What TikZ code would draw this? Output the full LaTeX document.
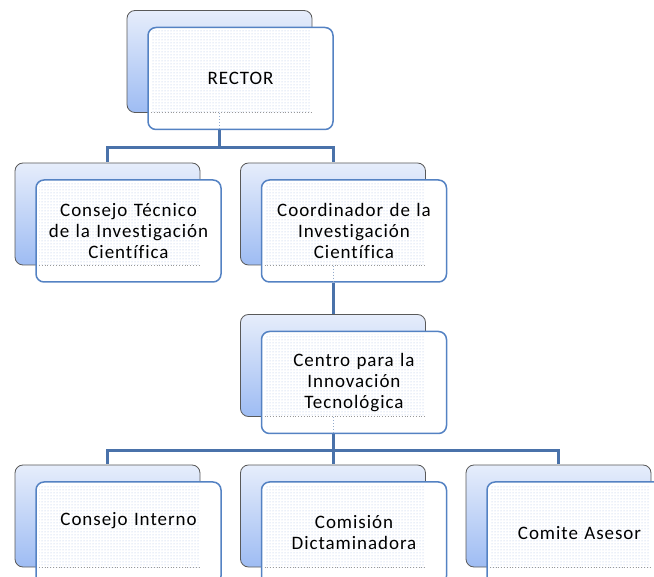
\documentclass[tikz,border=0pt]{standalone}
\usepackage{fontspec}
\setmainfont[LetterSpace=5, Ligatures={NoCommon}]{Carlito}
\usepackage{xcolor}
\usepackage{tikz}
\usetikzlibrary{positioning,shadows,patterns}

\definecolor{backtop}{RGB}{230,237,251}
\definecolor{backbot}{RGB}{158,188,243}
\definecolor{frontline}{RGB}{84,130,195}
\definecolor{linkcol}{RGB}{74,114,170}
\definecolor{dotcol}{RGB}{172,193,232}

\begin{document}
\begin{tikzpicture}[x=1pt,y=-1pt]

\tikzstyle{orgbox} = [draw=frontline, line width=1.5pt, fill=white, rounded corners=8pt,
  minimum width=185pt, minimum height=102pt, inner sep=0pt, text width=175pt, align=center,
  font=\fontsize{19}{21}\selectfont,
  general shadow={shadow xshift=-21pt, shadow yshift=17pt, top color=backtop, bottom color=backbot, draw=black!65, line width=0.8pt},
  path picture={
    \fill[sharp corners, pattern=dots, pattern color=dotcol] ([shift={(3pt,-3pt)}]path picture bounding box.north west) rectangle ([shift={(-22pt,17pt)}]path picture bounding box.south east);
    \draw[sharp corners, black!40, dotted, line width=0.8pt] ([shift={(3pt,17pt)}]path picture bounding box.south west) -- ([shift={(-22pt,17pt)}]path picture bounding box.south east);
  }]
\tikzstyle{link} = [draw=linkcol, line width=3pt]
\tikzstyle{stub} = [draw=linkcol!60, dotted, line width=1pt]

\path[use as bounding box, clip] (0,0) rectangle (654,577);

\node [orgbox] (rector) at (240.5,78.5) {RECTOR};
\node [orgbox, below right = 49pt and -73pt of rector] (coordinador) {Coordinador de la\\ Investigación\\ Científica};
\node [orgbox, left = 39pt of coordinador] (tecnico) {Consejo Técnico\\ de la Investigación\\ Científica};
\node [orgbox, below = 48pt of coordinador] (centro) {Centro para la\\ Innovación\\ Tecnológica};
\node [orgbox, below = 47pt of centro] (dictaminadora) {Comisión\\ Dictaminadora};
\node [orgbox, left = 39pt of dictaminadora] (interno) {Consejo Interno\\ \strut};
\node [orgbox, right = 39pt of dictaminadora] (asesor) {Comite Asesor};

\draw [stub] ([shift={(-21pt,17pt)}]rector.south) -- ([xshift=-21pt]rector.south);
\draw [stub] ([shift={(-21pt,17pt)}]coordinador.south) -- ([xshift=-21pt]coordinador.south);
\draw [stub] ([shift={(-21pt,17pt)}]centro.south) -- ([xshift=-21pt]centro.south);

\draw [link] ([xshift=-21pt]rector.south) -- ++(0,17) -| ([shift={(-21pt,17pt)}]tecnico.north);
\draw [link] ([xshift=-21pt]rector.south) -- ++(0,17) -| ([shift={(-21pt,17pt)}]coordinador.north);
\draw [link] ([xshift=-21pt]coordinador.south) -- ([shift={(-21pt,17pt)}]centro.north);
\draw [link] ([xshift=-21pt]centro.south) -- ++(0,16) -| ([shift={(-21pt,17pt)}]interno.north);
\draw [link] ([xshift=-21pt]centro.south) -- ([shift={(-21pt,17pt)}]dictaminadora.north);
\draw [link] ([xshift=-21pt]centro.south) -- ++(0,16) -| ([shift={(-21pt,17pt)}]asesor.north);
\end{tikzpicture}
\end{document}
